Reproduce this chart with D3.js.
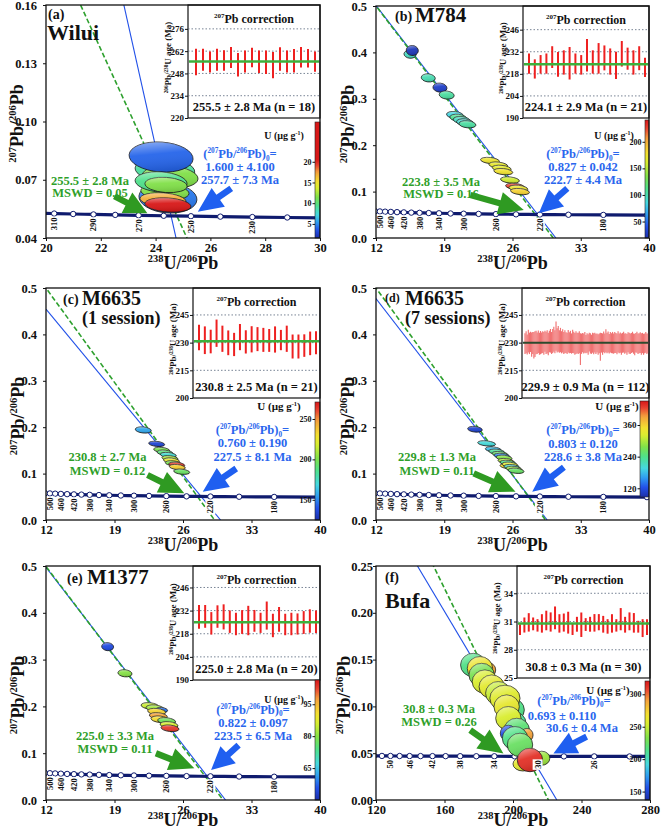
<!DOCTYPE html>
<html>
<head>
<meta charset="utf-8">
<script src="https://cdnjs.cloudflare.com/ajax/libs/d3/7.8.5/d3.min.js"></script>
<style>
body { margin: 0; background: #fff; }
svg { display: block; }
</style>
</head>
<body>
<svg id="fig" width="661" height="830"></svg>
<script>
// ---------- data ----------
// concordia points (age Ma, 238U/206Pb, 207Pb/206Pb)
const concAgeA = [320, 310, 300, 290, 280, 270, 260, 250, 240, 230, 220, 210];
const concXA = [19.649, 20.299, 20.992, 21.733, 22.526, 23.379, 24.297, 25.289, 26.363, 27.531, 28.805, 30.200];
const concYA = [0.052819, 0.052588, 0.052357, 0.052129, 0.051901, 0.051677, 0.051449, 0.051226, 0.051005, 0.050785, 0.050565, 0.050347];
const concLabelA = [310, 290, 270, 250, 230];

const concAgeM = [520, 500, 480, 460, 440, 420, 400, 380, 360, 340, 320, 300, 280, 260, 240, 220, 200, 180, 160, 140];
const concXM = [11.904, 12.399, 12.936, 13.520, 14.157, 14.855, 15.621, 16.469, 17.411, 18.465, 19.649, 20.992, 22.526, 24.297, 26.363, 28.805, 31.735, 35.316, 39.792, 45.548];
const concYM = [0.057769, 0.057245, 0.056728, 0.056218, 0.055713, 0.055218, 0.054727, 0.054240, 0.053760, 0.053287, 0.052819, 0.052357, 0.051901, 0.051449, 0.051005, 0.050565, 0.050131, 0.049701, 0.049277, 0.048860];
const concLabelM = [500, 460, 420, 380, 340, 300, 260, 220, 180];

const concAgeF = [54, 52, 50, 48, 46, 44, 42, 40, 38, 36, 34, 32, 30, 28, 26, 24, 22];
const concXF = [118.88, 123.47, 128.43, 133.80, 139.64, 146.01, 152.99, 160.66, 169.14, 178.57, 189.10, 200.95, 214.38, 229.73, 247.44, 268.10, 292.52];
const concYF = [0.047115, 0.047076, 0.047036, 0.046997, 0.046957, 0.046918, 0.046879, 0.046840, 0.046801, 0.046761, 0.046722, 0.046683, 0.046644, 0.046606, 0.046567, 0.046528, 0.046489];
const concLabelF = [50, 46, 42, 38, 34, 30, 26];

// regression lines: [207Pb/206Pb at x = 0, 238U/206Pb at y = 0]
const greenLineA = [0.817, 26.44], blueLineA = [1.600, 25.38];
const greenLineB = [0.830, 30.18], blueLineB = [0.827, 30.45];
const greenLineC = [0.848, 29.22], blueLineC = [0.760, 29.84];
const greenLineD = [0.845, 29.39], blueLineD = [0.803, 29.56];
const greenLineE = [0.830, 30.10], blueLineE = [0.822, 30.35];
const greenLineF = [0.822, 220.7], blueLineF = [0.693, 225.6];

// ellipses: [238U/206Pb, 207Pb/206Pb, half-width x, half-width y, U]
const ellA = [
  [24.34, 0.0750, 1.09, 0.0062, 9], [24.53, 0.0714, 1.02, 0.0057, 11.5],
  [24.20, 0.0817, 1.17, 0.0077, 4], [24.45, 0.0606, 1.06, 0.0077, 4.5],
  [24.34, 0.0637, 0.88, 0.0041, 11.5], [24.20, 0.0688, 0.95, 0.0052, 9.5],
  [24.38, 0.0673, 0.77, 0.0039, 11.5], [24.27, 0.0596, 0.84, 0.0036, 17],
  [24.45, 0.0570, 0.84, 0.0036, 21]
];
const ellB = [
  [15.49, 0.396, 0.62, 0.0086, 95], [15.72, 0.404, 0.62, 0.0108, 25],
  [17.36, 0.345, 0.72, 0.0086, 100], [18.56, 0.324, 0.72, 0.0097, 30],
  [19.25, 0.308, 0.77, 0.0086, 105], [20.10, 0.265, 0.87, 0.0075, 85],
  [20.44, 0.259, 0.87, 0.0075, 110], [20.79, 0.254, 0.87, 0.0075, 95],
  [21.13, 0.249, 0.87, 0.0075, 90], [21.38, 0.245, 0.87, 0.0075, 105],
  [23.69, 0.167, 0.97, 0.0065, 174], [24.54, 0.157, 0.97, 0.0065, 170],
  [24.89, 0.150, 0.97, 0.0065, 168], [25.06, 0.143, 0.97, 0.0065, 176],
  [25.74, 0.125, 0.97, 0.0065, 158], [26.26, 0.111, 0.97, 0.0065, 225],
  [26.60, 0.107, 0.97, 0.0065, 172], [26.77, 0.100, 0.97, 0.0065, 185]
];
const ellC = [
  [21.94, 0.194, 0.82, 0.0065, 157], [23.31, 0.164, 0.82, 0.0054, 135],
  [23.82, 0.151, 0.82, 0.0054, 200], [24.16, 0.145, 0.82, 0.0054, 190],
  [24.50, 0.140, 0.82, 0.0054, 172], [24.67, 0.133, 0.82, 0.0054, 210],
  [24.82, 0.128, 0.82, 0.0054, 225], [25.01, 0.122, 0.82, 0.0054, 200],
  [25.36, 0.119, 0.82, 0.0054, 262], [25.42, 0.114, 0.82, 0.0054, 235],
  [25.87, 0.104, 0.82, 0.0054, 195]
];
const ellD = [
  [22.15, 0.1955, 0.75, 0.0060, 110], [23.35, 0.165, 0.92, 0.0054, 200],
  [24.03, 0.152, 0.82, 0.0054, 180], [24.38, 0.147, 0.82, 0.0054, 230],
  [24.72, 0.142, 0.82, 0.0054, 260], [24.92, 0.138, 0.82, 0.0054, 150],
  [25.13, 0.134, 0.82, 0.0054, 280], [25.33, 0.127, 0.82, 0.0054, 300],
  [25.54, 0.123, 0.82, 0.0054, 240], [25.54, 0.116, 0.82, 0.0054, 350],
  [25.74, 0.119, 0.82, 0.0054, 330], [25.95, 0.114, 0.82, 0.0054, 210],
  [26.15, 0.110, 0.82, 0.0054, 290], [26.36, 0.106, 0.82, 0.0054, 260]
];
const ellE = [
  [18.30, 0.3276, 0.61, 0.0085, 55], [20.07, 0.2707, 0.72, 0.0075, 80],
  [22.63, 0.2009, 0.92, 0.0068, 85], [23.14, 0.1960, 0.92, 0.0068, 82],
  [23.82, 0.1923, 0.61, 0.0053, 58], [23.31, 0.1887, 0.92, 0.0068, 92],
  [23.48, 0.1795, 0.92, 0.0068, 97], [23.65, 0.1724, 0.92, 0.0068, 91],
  [24.33, 0.1688, 0.92, 0.0068, 78], [24.57, 0.1603, 0.92, 0.0068, 86],
  [24.67, 0.1532, 0.92, 0.0068, 103]
];
const ellF = [
  [176.8, 0.1442, 7.4, 0.0125, 215], [184.6, 0.1389, 5.3, 0.0085, 290],
  [180.7, 0.1407, 7.4, 0.0125, 265], [181.7, 0.1335, 7.4, 0.0125, 230],
  [183.6, 0.1264, 7.4, 0.0125, 255], [187.6, 0.1210, 7.4, 0.0125, 260],
  [191.4, 0.1140, 7.4, 0.0125, 250], [199.2, 0.0962, 7.4, 0.0125, 215],
  [195.3, 0.1087, 8.8, 0.0139, 258], [196.3, 0.0997, 7.4, 0.0125, 262],
  [200.2, 0.0819, 7.4, 0.0125, 210], [197.3, 0.0873, 7.4, 0.0125, 255],
  [202.2, 0.0748, 7.4, 0.0125, 220], [197.3, 0.0713, 4.7, 0.0085, 155],
  [208.2, 0.0694, 3.5, 0.0070, 290], [201.2, 0.0659, 7.4, 0.0125, 215],
  [204.1, 0.0588, 7.4, 0.0125, 225], [216.8, 0.0446, 4.7, 0.0075, 240],
  [205.8, 0.0385, 5.8, 0.0075, 260], [209.9, 0.0427, 7.4, 0.0125, 312]
];

// inset: 207Pb-corrected 206Pb/238U ages (Ma) and 2s errors
const insetCA = [255.2, 256.6, 255.2, 256.6, 256.1, 258.0, 253.5, 255.5, 258.0, 255.3, 255.0, 253.2, 257.1, 255.5, 256.0, 258.2, 257.6, 255.4];
const insetEA = [8.3, 6.9, 6.6, 6.9, 6.4, 6.6, 7.4, 6.9, 6.1, 7.1, 7.4, 8.2, 7.4, 6.9, 7.4, 6.4, 5.8, 6.4];
const insetCB = [224.5, 221.1, 224.0, 224.5, 228.6, 224.0, 225.2, 224.7, 224.5, 223.7, 229.8, 225.5, 227.8, 228.1, 225.8, 223.4, 230.7, 227.6, 225.2, 227.9, 222.1];
const insetEB = [6.4, 6.1, 5.9, 6.4, 6.9, 7.9, 7.7, 10.3, 6.4, 6.2, 10.3, 7.4, 9.7, 7.9, 8.3, 8.6, 8.1, 7.0, 7.7, 7.6, 6.1];
const insetCC = [232.8, 231.3, 230.6, 235.1, 232.1, 229.9, 229.0, 233.0, 230.4, 231.8, 231.9, 231.5, 231.2, 231.7, 231.4, 232.1, 227.9, 227.9, 228.4, 229.6, 229.9];
const insetEC = [6.9, 7.5, 6.4, 7.4, 7.1, 6.7, 6.3, 7.1, 6.3, 7.1, 6.5, 6.5, 6.2, 7.1, 5.5, 7.1, 6.5, 6.5, 6.1, 6.4, 6.2];
const insetCD = [
  229.5, 230.2, 229.0, 230.8, 229.6, 230.4, 228.9, 229.8, 228.6, 229.2, 230.1, 229.7, 230.5, 229.4, 230.0, 229.8,
  230.3, 229.6, 230.8, 229.9, 230.4, 229.2, 230.6, 231.0, 229.8, 230.9, 231.8, 230.5, 233.5, 231.2, 232.0, 230.6,
  231.4, 230.2, 231.0, 229.8, 230.5, 230.0, 229.6, 230.8, 229.9, 230.4, 229.5, 230.7, 230.1, 229.3, 230.0, 229.8,
  229.6, 230.2, 226.5, 229.4, 230.0, 229.5, 230.1, 229.2, 229.8, 229.0, 230.3, 229.6, 229.1, 229.9, 229.4, 230.0,
  229.3, 229.8, 229.0, 229.6, 227.8, 229.9, 229.2, 230.4, 229.6, 231.0, 229.8, 230.3, 229.4, 230.2, 229.7, 230.0,
  229.5, 230.1, 229.8, 229.3, 230.4, 229.6, 230.0, 229.2, 229.9, 230.3, 229.5, 229.8, 229.1, 230.2, 229.7, 229.4,
  229.8, 230.3, 229.5, 229.0, 229.9, 230.2, 229.4, 229.7, 230.0, 229.3, 229.8, 229.1, 229.6, 230.1, 229.4, 229.7
];
const insetED = [
  5.6, 6.0, 5.4, 6.2, 5.8, 5.5, 6.6, 6.0, 7.2, 7.0, 6.4, 5.8, 6.1, 5.9, 6.3, 5.7,
  5.9, 6.2, 5.7, 6.0, 6.3, 6.1, 5.8, 6.4, 6.0, 6.5, 6.8, 6.2, 7.9, 6.6, 7.0, 6.1,
  6.6, 6.0, 6.3, 5.9, 6.2, 5.6, 5.8, 6.1, 5.7, 6.0, 5.5, 6.3, 5.8, 5.9, 6.1, 5.6,
  5.8, 6.0, 8.6, 5.5, 5.2, 5.4, 5.6, 5.0, 5.3, 5.6, 5.1, 5.5, 5.2, 5.4, 5.7, 5.3,
  5.5, 5.2, 5.6, 5.4, 7.6, 5.3, 5.8, 5.6, 5.4, 6.2, 5.5, 5.7, 5.3, 5.6, 5.4, 5.8,
  5.5, 5.7, 5.4, 5.6, 5.8, 5.3, 5.5, 5.7, 5.4, 5.6, 5.5, 5.3, 5.6, 5.4, 5.7, 5.5,
  5.4, 5.6, 5.5, 5.8, 5.3, 5.7, 5.5, 5.4, 5.6, 5.8, 5.5, 5.7, 5.4, 5.6, 5.5, 5.3
];
const insetCE = [228.2, 228.5, 224.3, 228.4, 228.2, 225.3, 223.9, 225.1, 226.0, 225.8, 224.6, 229.0, 223.0, 226.7, 223.6, 223.9, 223.9, 224.8, 225.7, 225.3];
const insetEE = [7.2, 6.9, 6.8, 6.8, 7.6, 6.8, 6.8, 7.2, 8.9, 6.6, 6.1, 8.5, 7.1, 7.5, 6.5, 6.8, 6.4, 6.9, 7.1, 6.8];
const insetCF = [30.14, 30.63, 30.91, 30.75, 30.59, 30.80, 31.11, 30.95, 31.39, 30.80, 30.89, 30.88, 30.18, 30.71, 30.66, 30.68, 30.71, 30.86, 30.93, 30.71, 30.48, 30.80, 30.59, 31.25, 30.66, 31.02, 30.86, 30.45, 30.30, 30.41];
const insetEF = [0.57, 0.80, 0.98, 0.68, 0.66, 0.98, 1.04, 1.02, 1.21, 0.98, 0.96, 1.16, 0.61, 0.79, 1.30, 0.68, 0.79, 0.93, 0.86, 0.89, 0.77, 0.98, 0.66, 1.18, 0.84, 0.95, 1.04, 0.63, 0.95, 0.84];
const insetMeans = [255.5, 224.1, 230.8, 229.9, 225.0, 30.8];
const insetSummaries = ["255.5 ± 2.8 Ma (n = 18)", "224.1 ± 2.9 Ma (n = 21)", "230.8 ± 2.5 Ma (n = 21)",
  "229.9 ± 0.9 Ma (n = 112)", "225.0 ± 2.8 Ma (n = 20)", "30.8 ± 0.3 Ma (n = 30)"];

// tick labels
const xTicksA = [20, 22, 24, 26, 28, 30], yTicksA = [0.04, 0.07, 0.10, 0.13, 0.16];
const xTicksM = [12, 19, 26, 33, 40], yTicksM = [0, 0.1, 0.2, 0.3, 0.4, 0.5];
const xTicksF = [120, 160, 200, 240, 280], yTicksF = [0, 0.05, 0.10, 0.15, 0.20, 0.25];
const insetTicksA = [220, 234, 248, 262, 276], insetTicksB = [190, 204, 218, 232, 246];
const insetTicksC = [200, 215, 230, 245], insetTicksF = [25, 28, 31, 34];
const cbTicksA = [5, 10, 15, 20], cbTicksB = [50, 100, 150, 200], cbTicksC = [150, 200, 250];
const cbTicksD = [120, 240, 360], cbTicksE = [65, 80, 95], cbTicksF = [150, 200, 250, 300];

// annotation text
const sampleNames = ["Wilui", "M784", "M6635", "M6635", "M1377", "Bufa"];
const greenTexts = [["255.5 ± 2.8 Ma", "MSWD = 0.05"], ["223.8 ± 3.5 Ma", "MSWD = 0.16"], ["230.8 ± 2.7 Ma", "MSWD = 0.12"],
  ["229.8 ± 1.3 Ma", "MSWD = 0.11"], ["225.0 ± 3.3 Ma", "MSWD = 0.11"], ["30.8 ± 0.3 Ma", "MSWD = 0.26"]];
const blueTexts = [["1.600 ± 4.100", "257.7 ± 7.3 Ma"], ["0.827 ± 0.042", "222.7 ± 4.4 Ma"], ["0.760 ± 0.190", "227.5 ± 8.1 Ma"],
  ["0.803 ± 0.120", "228.6 ± 3.8 Ma"], ["0.822 ± 0.097", "223.5 ± 6.5 Ma"], ["0.693 ± 0.110", "30.6 ± 0.4 Ma"]];

// ---------- drawing ----------
const SERIF = "'Liberation Serif','Times New Roman',Times,serif";
const INK = "#111";
const GREEN = "#2f9f2a", BLUE = "#2a66ee", NAVY = "#0f1b6e";
const jetStops = [0, 0.1, 0.2, 0.3, 0.42, 0.52, 0.64, 0.72, 0.84, 0.93, 1];
const jetColors = ["#1c2fa8", "#2350e8", "#2f9cf0", "#45d8e0", "#4fe08a", "#7ee04a", "#d8ee30", "#f4e030", "#f4a03c", "#e84030", "#d81818"];
const jet = d3.scaleLinear().domain(jetStops).range(jetColors).clamp(true);

const svg = d3.select("#fig");
svg.append("rect").attr("width", 661).attr("height", 830).attr("fill", "#fff");
const defs = svg.append("defs");
const sheen = defs.append("linearGradient").attr("id", "sheen")
  .attr("x1", 0).attr("y1", 0).attr("x2", 0.35).attr("y2", 1);
sheen.append("stop").attr("offset", 0).attr("stop-color", "#fff").attr("stop-opacity", 0.55);
sheen.append("stop").attr("offset", 0.5).attr("stop-color", "#fff").attr("stop-opacity", 0.05);
sheen.append("stop").attr("offset", 1).attr("stop-color", "#000").attr("stop-opacity", 0.12);

// text with super/subscripts
function rich(g, x, y, parts, size, fill, anchor = "middle", rot = 0) {
  const t = g.append("text").attr("x", x).attr("y", y)
    .attr("font-family", SERIF).attr("font-weight", "bold")
    .attr("font-size", size).attr("fill", fill).attr("text-anchor", anchor);
  if (rot) t.attr("transform", `rotate(${rot},${x},${y})`);
  let cur = 0;
  parts.forEach(([s, k]) => {
    const off = k === "sup" ? -0.38 * size : k === "sub" ? 0.22 * size : 0;
    const ts = t.append("tspan").text(s).attr("dy", off - cur);
    if (k) ts.attr("font-size", size * 0.58);
    cur = off;
  });
  return t;
}

function arrow(g, x1, y1, x2, y2, color) {
  const dx = x2 - x1, dy = y2 - y1, len = Math.hypot(dx, dy);
  const ux = dx / len, uy = dy / len, nx = -uy, ny = ux;
  const L = Math.min(25, len * 0.62), H = 11.5, w = 3.2;
  const bx = x2 - ux * L, by = y2 - uy * L;
  const pts = [[x1 + nx * w, y1 + ny * w], [bx + nx * w, by + ny * w], [bx + nx * H, by + ny * H], [x2, y2],
    [bx - nx * H, by - ny * H], [bx - nx * w, by - ny * w], [x1 - nx * w, y1 - ny * w]];
  g.append("polygon").attr("points", pts.map(p => p.join(",")).join(" ")).attr("fill", color);
}

const xLabParts = [["238", "sup"], ["U/"], ["206", "sup"], ["Pb"]];
const yLabParts = [["207", "sup"], ["Pb/"], ["206", "sup"], ["Pb"]];
const ratio0Parts = [["("], ["207", "sup"], ["Pb/"], ["206", "sup"], ["Pb)"], ["0", "sub"], ["="]];

const panels = [
  { id: "a", frame: [46, 320, 5, 238], xDom: [20, 30], yDom: [0.04, 0.16], xTicks: xTicksA, yTicks: yTicksA, yFmt: ".2f",
    conc: [concAgeA, concXA, concYA], concLab: concLabelA, green: greenLineA, blue: blueLineA, ell: ellA, rot: 4,
    gArrow: [22.5, 0.0615, 23.70, 0.0527], bArrow: [26.76, 0.0656, 25.54, 0.0535],
    titles: [["(a)", 48, 19, 14], [sampleNames[0], 47, 40, 22]],
    gText: [90, 184.5, 196.5], bText: [[240, 158], [240, 170.5], [240, 183.5]],
    inset: { box: [188, 5, 320, 118], yDom: [220, 291], ticks: insetTicksA, c: insetCA, e: insetEA, pad: [8, 5] },
    cbar: { box: [315, 320, 122, 238], dom: [1.6, 29.6], cdom: [1.6, 20.5], ticks: cbTicksA, label: [284, 138.5, 10], fs: 8 },
    ylabDy: 2, yPad: 6, ylabX: 23, xlabDy: 31 },
  { id: "b", frame: [376, 649, 6, 238], xDom: [12, 40], yDom: [0, 0.5], xTicks: xTicksM, yTicks: yTicksM, yFmt: ".1f",
    conc: [concAgeM, concXM, concYM], concLab: concLabelM, green: greenLineB, blue: blueLineB, ell: ellB, rot: 6,
    gArrow: [21.68, 0.0927, 27.16, 0.0603], bArrow: [31.62, 0.107, 28.70, 0.0532],
    titles: [["(b)", 395, 21, 14], [sampleNames[1], 415, 22, 21]],
    gText: [441, 186, 198], bText: [[583, 158], [583, 171], [583, 183.5]],
    inset: { box: [523, 6, 649, 118], yDom: [190, 261], ticks: insetTicksB, c: insetCB, e: insetEB, pad: [6, 4] },
    cbar: { box: [645, 649, 120, 238], dom: [19, 241], cdom: [19, 241], ticks: cbTicksB, label: [614, 138.5, 10], fs: 8 },
    ylabDy: 2, yPad: 6, ylabX: 22, xlabDy: 31 },
  { id: "c", frame: [46, 320, 288, 520], xDom: [12, 40], yDom: [0, 0.5], xTicks: xTicksM, yTicks: yTicksM, yFmt: ".1f",
    conc: [concAgeM, concXM, concYM], concLab: concLabelM, green: greenLineC, blue: blueLineC, ell: ellC, rot: 6,
    gArrow: [22.37, 0.097, 26.13, 0.0575], bArrow: [31.44, 0.111, 28.02, 0.061],
    titles: [["(c)", 63, 304, 14], [sampleNames[2], 82, 305, 20], ["(1 session)", 82, 324, 18]],
    gText: [107.5, 461, 474.5], bText: [[252.5, 434], [252.5, 447], [252.5, 460.5]],
    inset: { box: [193, 288, 320, 398], yDom: [200, 259.6], ticks: insetTicksC, c: insetCC, e: insetEC, pad: [6, 4] },
    cbar: { box: [315, 320, 402, 520], dom: [125, 271], cdom: [125, 271], ticks: cbTicksC, label: [279, 410, 11], fs: 8 },
    ylabDy: 12, yPad: 6, ylabX: 22, xlabDy: 31 },
  { id: "d", frame: [376, 649, 288, 520], xDom: [12, 40], yDom: [0, 0.5], xTicks: xTicksM, yTicks: yTicksM, yFmt: ".1f",
    conc: [concAgeM, concXM, concYM], concLab: concLabelM, green: greenLineD, blue: blueLineD, ell: ellD, rot: 6,
    gArrow: [22.02, 0.1006, 26.31, 0.061], bArrow: [31.27, 0.1135, 28.02, 0.061],
    titles: [["(d)", 385, 302, 12], [sampleNames[3], 405, 305, 20], ["(7 sessions)", 405, 324, 18]],
    gText: [437, 460.5, 474.5], bText: [[583, 434], [583, 448], [583, 461]],
    inset: { box: [522, 288, 649, 398], yDom: [200, 259.6], ticks: insetTicksC, c: insetCD, e: insetED, pad: [3, 1], dense: true },
    cbar: { box: [640, 649, 401, 497], dom: [87, 451], cdom: [87, 451], ticks: cbTicksD, label: [617, 410, 11], fs: 9 },
    ylabDy: 12, yPad: 6, ylabX: 22, xlabDy: 31 },
  { id: "e", frame: [46, 320, 566, 800], xDom: [12, 40], yDom: [0, 0.5], xTicks: xTicksM, yTicks: yTicksM, yFmt: ".1f",
    conc: [concAgeM, concXM, concYM], concLab: concLabelM, green: greenLineE, blue: blueLineE, ell: ellE, rot: 6,
    gArrow: [23.23, 0.0997, 27.16, 0.0676], bArrow: [31.68, 0.117, 28.87, 0.064],
    titles: [["(e)", 67, 583, 14], [sampleNames[4], 87, 584, 21]],
    gText: [115, 739.5, 753], bText: [[253, 713.5], [253, 727], [253, 740]],
    inset: { box: [193, 566, 320, 680], yDom: [190, 259], ticks: insetTicksB, c: insetCE, e: insetEE, pad: [6, 4] },
    cbar: { box: [315, 320, 680, 800], dom: [50, 106.4], cdom: [50, 106.4], ticks: cbTicksE, label: [284, 703, 10], fs: 8 },
    ylabDy: 12, yPad: 6, ylabX: 22, xlabDy: 25.5 },
  { id: "f", frame: [376, 650, 566, 800], xDom: [120, 280], yDom: [0, 0.25], xTicks: xTicksF, yTicks: yTicksF, yFmt: ".2f",
    conc: [concAgeF, concXF, concYF], concLab: concLabelF, green: greenLineF, blue: blueLineF, ell: ellF, rot: 0,
    gArrow: [175.0, 0.0747, 194.4, 0.0498], bArrow: [243.0, 0.0676, 223.6, 0.0498],
    titles: [["(f)", 385, 582, 14], [sampleNames[5], 385, 608, 22]],
    gText: [439, 713, 725.5], bText: [[574, 704.5], [562, 719.5], [582, 732]],
    inset: { box: [517, 566, 650, 678], yDom: [25, 36.9], ticks: insetTicksF, c: insetCF, e: insetEF, pad: [3, 3] },
    cbar: { box: [645, 650, 681, 800], dom: [137, 320.5], cdom: [137, 320.5], ticks: cbTicksF, label: [608, 694, 11], fs: 8 },
    ylabDy: 12, yPad: 0, ylabX: 26, xlabDy: 25.5 }
];

function styleAxis(a, size) {
  a.select(".domain").remove();
  a.selectAll("text").attr("font-family", SERIF).attr("font-weight", "bold")
    .attr("font-size", size).attr("fill", INK);
  a.selectAll("line").attr("stroke", INK);
}

panels.forEach((p, pi) => {
  const [L, R, T, B] = p.frame;
  const x = d3.scaleLinear().domain(p.xDom).range([L, R]);
  const y = d3.scaleLinear().domain(p.yDom).range([B, T]);
  const cb = p.cbar;
  const col = v => jet((v - cb.cdom[0]) / (cb.cdom[1] - cb.cdom[0]));
  const g = svg.append("g");

  defs.append("clipPath").attr("id", "clip" + p.id)
    .append("rect").attr("x", L).attr("y", T).attr("width", R - L).attr("height", B - T);
  const inner = g.append("g").attr("clip-path", `url(#clip${p.id})`);

  // regression lines
  inner.append("line")
    .attr("x1", x(0)).attr("y1", y(p.blue[0])).attr("x2", x(p.blue[1])).attr("y2", y(0))
    .attr("stroke", "#2050e8").attr("stroke-width", 1.1);
  inner.append("line")
    .attr("x1", x(0)).attr("y1", y(p.green[0])).attr("x2", x(p.green[1])).attr("y2", y(0))
    .attr("stroke", "#2ea02e").attr("stroke-width", 1.6).attr("stroke-dasharray", "5,2.5");

  // concordia
  const [ages, cx, cy] = p.conc;
  const pts = ages.map((a, i) => [cx[i], cy[i], a]);
  inner.append("path").datum(pts)
    .attr("d", d3.line().x(d => x(d[0])).y(d => y(d[1])).curve(d3.curveMonotoneX))
    .attr("fill", "none").attr("stroke", NAVY).attr("stroke-width", 3.2);
  inner.selectAll("circle.mk").data(pts).join("circle").attr("class", "mk")
    .attr("cx", d => x(d[0])).attr("cy", d => y(d[1])).attr("r", 2.7)
    .attr("fill", "#fff").attr("stroke", NAVY).attr("stroke-width", 1);

  // ellipses
  p.ell.forEach(([ex, ey, sx, sy, u]) => {
    const px = x(ex), py = y(ey);
    const rx = x(ex + sx) - px, ry = py - y(ey + sy);
    const eg = inner.append("g").attr("transform", `translate(${px},${py}) rotate(${p.rot})`);
    eg.append("ellipse").attr("rx", rx).attr("ry", ry).attr("fill", col(u))
      .attr("stroke", "#1a1a1a").attr("stroke-width", 0.8);
    eg.append("ellipse").attr("rx", rx).attr("ry", ry).attr("fill", "url(#sheen)");
  });

  // concordia age labels
  p.concLab.forEach(a => {
    const i = ages.indexOf(a);
    const lg = inner.append("g").attr("transform", `translate(${x(cx[i])},${y(cy[i]) + 4}) rotate(-90)`);
    const t = lg.append("text").text(a).attr("text-anchor", "end").attr("dominant-baseline", "central")
      .attr("font-family", SERIF).attr("font-weight", "bold").attr("font-size", 8.5).attr("fill", INK);
    const w = t.node().getComputedTextLength();
    lg.insert("rect", "text").attr("x", -w - 1).attr("y", -5).attr("width", w + 2).attr("height", 10).attr("fill", "#fff");
  });

  // arrows
  arrow(g, x(p.gArrow[0]), y(p.gArrow[1]), x(p.gArrow[2]), y(p.gArrow[3]), "#2f9a22");
  arrow(g, x(p.bArrow[0]), y(p.bArrow[1]), x(p.bArrow[2]), y(p.bArrow[3]), "#1f5ff0");

  // annotations
  const [gx, gy1, gy2] = p.gText;
  rich(g, gx, gy1, [[greenTexts[pi][0]]], 12.5, GREEN);
  rich(g, gx, gy2, [[greenTexts[pi][1]]], 12.5, GREEN);
  rich(g, p.bText[0][0], p.bText[0][1], ratio0Parts, 12.5, BLUE);
  rich(g, p.bText[1][0], p.bText[1][1], [[blueTexts[pi][0]]], 12.5, BLUE);
  rich(g, p.bText[2][0], p.bText[2][1], [[blueTexts[pi][1]]], 12.5, BLUE);

  // titles
  p.titles.forEach(([s, tx, ty, fs]) => rich(g, tx, ty, [[s]], fs, INK, "start"));

  // inset
  const ins = p.inset;
  const [il, it, ir, ib] = ins.box;
  const iy = d3.scaleLinear().domain(ins.yDom).range([ib, it]);
  const ix = d3.scalePoint().domain(d3.range(ins.c.length)).range([il + ins.pad[0], ir - ins.pad[1]]);
  const ig = g.append("g");
  ig.append("rect").attr("x", il).attr("y", it).attr("width", ir - il).attr("height", ib - it)
    .attr("fill", "#fff").attr("stroke", INK).attr("stroke-width", 1.2);
  ig.selectAll("line.grid").data(ins.ticks.slice(1)).join("line").attr("class", "grid")
    .attr("x1", il).attr("x2", ir).attr("y1", d => iy(d)).attr("y2", d => iy(d))
    .attr("stroke", "#55657a").attr("stroke-width", 0.8).attr("stroke-dasharray", "1.5,2");
  ig.selectAll("line.bar").data(ins.c).join("line").attr("class", "bar")
    .attr("x1", (d, i) => ix(i)).attr("x2", (d, i) => ix(i))
    .attr("y1", (d, i) => iy(d - ins.e[i])).attr("y2", (d, i) => iy(d + ins.e[i]))
    .attr("stroke", ins.dense ? "#f07272" : "#ee2020").attr("stroke-width", ins.dense ? 1.15 : 2);
  ig.append("line").attr("x1", il + 1).attr("x2", ir - 1)
    .attr("y1", iy(insetMeans[pi])).attr("y2", iy(insetMeans[pi]))
    .attr("stroke", ins.dense ? "#2d4a2d" : "#3cb03c").attr("stroke-width", ins.dense ? 2 : 2.5);
  ig.append("g").attr("transform", `translate(${il},0)`)
    .call(d3.axisLeft(iy).tickValues(ins.ticks).tickSize(3).tickPadding(1).tickFormat(d3.format("d")))
    .call(a => styleAxis(a, 9));
  rich(ig, (il + ir) / 2, it + 18, [["207", "sup"], ["Pb correction"]], 12, INK);
  rich(ig, (il + ir) / 2, ib - 7, [[insetSummaries[pi]]], 12.5, INK);
  rich(ig, il - 17, (it + ib) / 2 - 4, [["206", "sup"], ["Pb/"], ["238", "sup"], ["U age (Ma)"]], 9, INK, "middle", -90);

  // colour bar
  const [cl, cr, ct, cbm] = cb.box;
  const cs = d3.scaleLinear().domain(cb.dom).range([cbm, ct]);
  const grad = defs.append("linearGradient").attr("id", "cb" + p.id)
    .attr("x1", 0).attr("y1", 1).attr("x2", 0).attr("y2", 0);
  d3.range(41).forEach(k => {
    const v = cb.dom[0] + (k / 40) * (cb.dom[1] - cb.dom[0]);
    grad.append("stop").attr("offset", k / 40).attr("stop-color", col(v));
  });
  g.append("rect").attr("x", cl).attr("y", ct).attr("width", cr - cl).attr("height", cbm - ct)
    .attr("fill", `url(#cb${p.id})`).attr("stroke", "#222").attr("stroke-width", 0.6);
  g.append("g").attr("transform", `translate(${cl},0)`)
    .call(d3.axisLeft(cs).tickValues(cb.ticks).tickSize(2.5).tickPadding(1).tickFormat(d3.format("d")))
    .call(a => styleAxis(a, cb.fs));
  rich(g, cb.label[0], cb.label[1], [["U (µg g"], ["-1", "sup"], [")"]], cb.label[2], INK);

  // frame and axes
  g.append("rect").attr("x", L).attr("y", T).attr("width", R - L).attr("height", B - T)
    .attr("fill", "none").attr("stroke", INK).attr("stroke-width", 1.3);
  g.append("g").attr("transform", `translate(0,${B})`)
    .call(d3.axisBottom(x).tickValues(p.xTicks).tickSize(3).tickPadding(2).tickFormat(d3.format("d")))
    .call(a => styleAxis(a, 12.5));
  g.append("g").attr("transform", `translate(${L},0)`)
    .call(d3.axisLeft(y).tickValues(p.yTicks).tickSize(3).tickPadding(p.yPad).tickFormat(d3.format(p.yFmt)))
    .call(a => styleAxis(a, 12.5));
  rich(g, (L + R) / 2, B + p.xlabDy, xLabParts, 18, INK);
  rich(g, L - p.ylabX, (T + B) / 2 + p.ylabDy, yLabParts, 18, INK, "middle", -90);
});
</script>
</body>
</html>
